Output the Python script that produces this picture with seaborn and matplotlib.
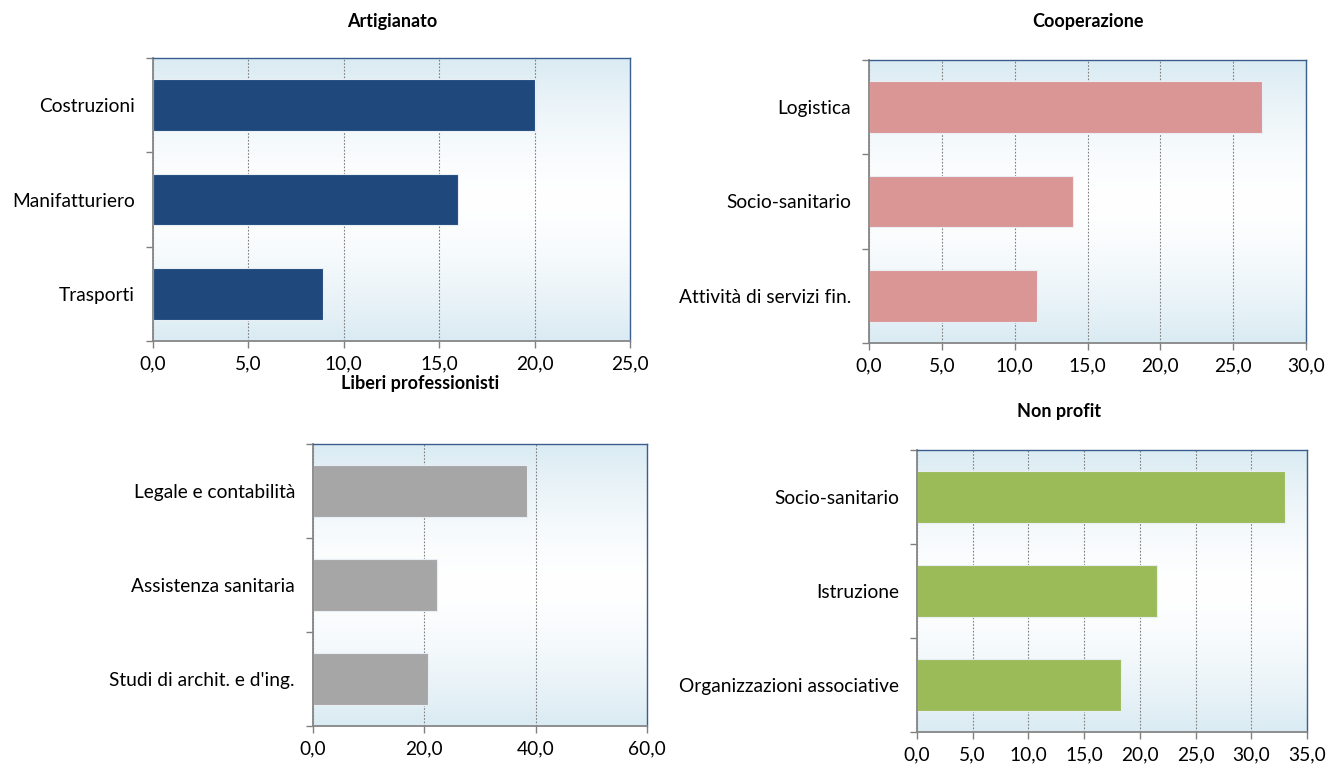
import numpy as np
import pandas as pd
import matplotlib
matplotlib.use("Agg")
import matplotlib.pyplot as plt
from matplotlib.ticker import FixedLocator, FuncFormatter
import seaborn as sns

# Sector shares (%) by category
artigianato_labels = ["Costruzioni", "Manifatturiero", "Trasporti"]
artigianato_values = [20.0, 16.0, 8.9]

cooperazione_labels = ["Logistica", "Socio-sanitario", "Attività di servizi fin."]
cooperazione_values = [27.0, 14.0, 11.5]

liberi_labels = ["Legale e contabilità", "Assistenza sanitaria", "Studi di archit. e d'ing."]
liberi_values = [38.5, 22.3, 20.6]

nonprofit_labels = ["Socio-sanitario", "Istruzione", "Organizzazioni associative"]
nonprofit_values = [33.0, 21.5, 18.3]

sns.set_theme(style="white")
plt.rcParams["font.family"] = ["Lato", "DejaVu Sans"]

W, H = 1326, 765
fig = plt.figure(figsize=(W / 100, H / 100), dpi=100)


def px_axes(left, top, right, bottom):
    return fig.add_axes([left / W, 1 - bottom / H, (right - left) / W, (bottom - top) / H])


# vertical gradient: pale blue at top and bottom, white in the middle
n = 256
t = np.abs(np.linspace(-1, 1, n))[:, None] ** 1.5
edge = np.array([218, 235, 243]) / 255.0
white = np.ones(3)
grad = white + (edge - white) * t[..., None]
grad = np.repeat(grad, 2, axis=1)


def panel(ax, labels, values, color, xmax, xstep):
    df = pd.DataFrame({"cat": labels, "val": values})
    sns.barplot(data=df, x="val", y="cat", orient="h", color=color, width=0.55,
                saturation=1, edgecolor="#e8eef4", linewidth=0.8, ax=ax, zorder=2)
    ax.imshow(grad, extent=[0, 1, 0, 1], transform=ax.transAxes, aspect="auto",
              zorder=0, interpolation="bilinear")
    ax.set_xlim(0, xmax)
    ax.set_ylim(2.5, -0.5)
    ax.set_xlabel("")
    ax.set_ylabel("")
    ticks = np.arange(0, xmax + xstep / 2, xstep)
    ax.set_xticks(ticks)
    ax.xaxis.set_major_formatter(FuncFormatter(lambda v, p: f"{v:.1f}".replace(".", ",")))
    ax.set_yticks([0, 1, 2])
    ax.set_yticklabels(labels)
    ax.yaxis.set_minor_locator(FixedLocator([-0.5, 0.5, 1.5, 2.5]))
    ax.tick_params(axis="y", which="major", length=0, pad=13, labelsize=13.8, colors="black")
    ax.tick_params(axis="y", which="minor", left=True, length=5, width=1, color="#808080")
    ax.tick_params(axis="x", which="major", bottom=True, length=5, width=1, color="#808080",
                   pad=5, labelsize=13.8, labelcolor="black")
    ax.set_axisbelow(True)
    ax.xaxis.grid(True, linestyle=(0, (1.5, 1.5)), color="#7f7f7f", linewidth=0.8, zorder=1)
    ax.yaxis.grid(False)
    for s in ("left", "bottom"):
        ax.spines[s].set_color("#868686")
        ax.spines[s].set_linewidth(1.3)
    for s in ("right", "top"):
        ax.spines[s].set_color("#3a5f8e")
        ax.spines[s].set_linewidth(1.0)
    ax.set_zorder(1)


ax1 = px_axes(153, 58, 630, 341)
panel(ax1, artigianato_labels, artigianato_values, "#1f497d", 25, 5)

ax2 = px_axes(869, 60, 1306, 343)
panel(ax2, cooperazione_labels, cooperazione_values, "#d99694", 30, 5)

ax3 = px_axes(313, 444, 647, 726)
panel(ax3, liberi_labels, liberi_values, "#a6a6a6", 60, 20)

ax4 = px_axes(917, 450, 1307, 732)
panel(ax4, nonprofit_labels, nonprofit_values, "#9bbb59", 35, 5)

title_kw = dict(ha="center", va="center", fontsize=13, fontweight="bold", color="black")
fig.text(392 / W, 1 - 22 / H, "Artigianato", **title_kw)
fig.text(1088 / W, 1 - 22 / H, "Cooperazione", **title_kw)
fig.text(420 / W, 1 - 383 / H, "Liberi professionisti", **title_kw)
fig.text(1059 / W, 1 - 412 / H, "Non profit", **title_kw)

fig.savefig("out.png", dpi=100, facecolor="white")
